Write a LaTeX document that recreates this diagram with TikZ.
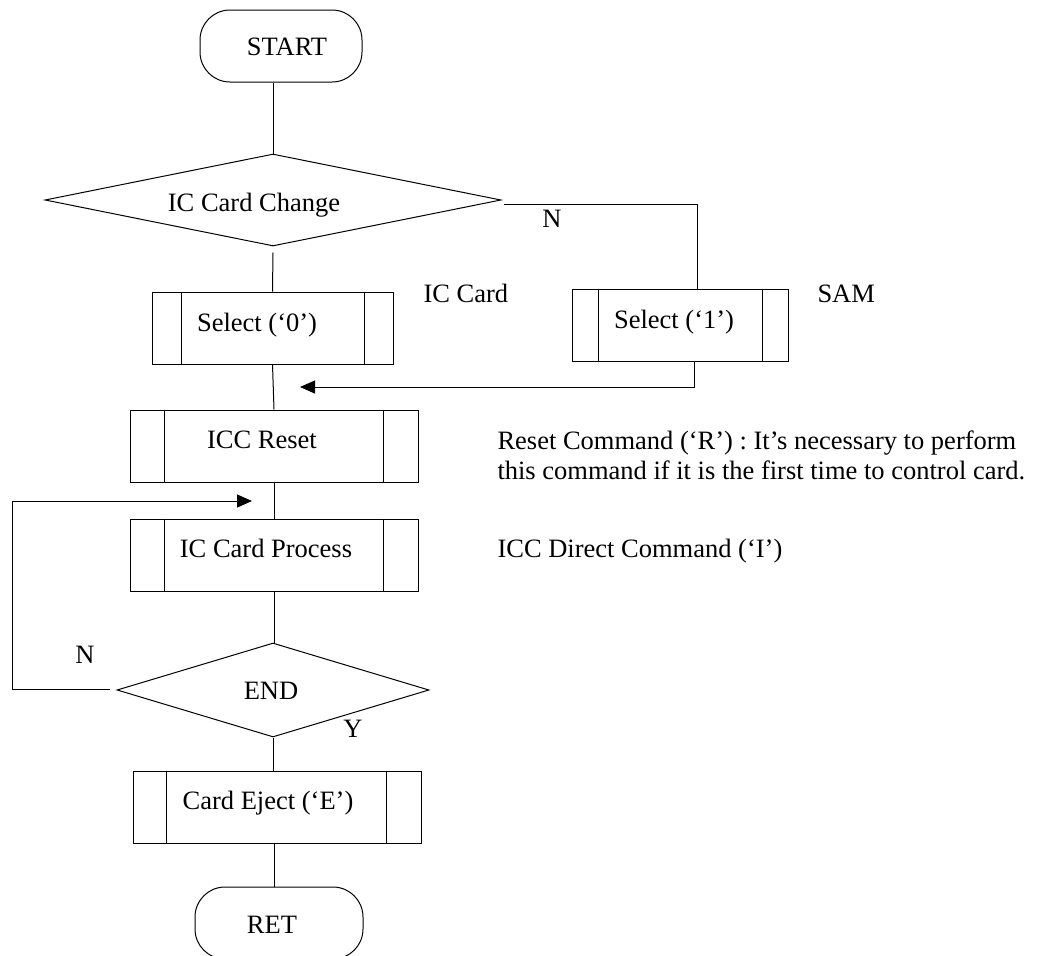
\documentclass[tikz,border=0pt]{standalone}
\usepackage{fontspec}
\setmainfont{Liberation Serif}
\usetikzlibrary{shapes.geometric,arrows.meta}
\begin{document}
\begin{tikzpicture}[x=1pt,y=-1pt,
  line width=1pt,
  every node/.style={font=\fontsize{26.5}{31}\selectfont},
  terminal/.style={draw, rounded corners=30pt, minimum height=72pt, inner sep=0pt},
  decision/.style={draw, diamond, inner sep=0pt},
  subbox/.style={draw, rectangle, minimum height=72pt, inner sep=0pt},
  label/.style={anchor=base, inner sep=0pt},
  note/.style={anchor=base west, inner sep=0pt},
  flow/.style={-{Triangle[length=15pt,width=13pt]}}]

\fill[white] (0,0) rectangle (1045,956);
\useasboundingbox (0,0) rectangle (1045,956);

% shapes
\node[terminal, minimum width=162pt] (start) at (281,46) {};
\node[decision, minimum width=456pt, minimum height=92pt] (d1) at (273,200) {};
\node[subbox, minimum width=241pt] (s0) at (272.5,328) {};
\node[subbox, minimum width=216pt] (s1) at (680,325) {};
\node[subbox, minimum width=288pt] (reset) at (274,446) {};
\node[subbox, minimum width=288pt] (proc) at (274,555) {};
\node[decision, minimum width=312pt, minimum height=94pt] (d2) at (273,690) {};
\node[subbox, minimum width=288pt] (eject) at (277,807) {};
\node[terminal, minimum width=168pt] (ret) at (279,923) {};

% side bars of the predefined-process boxes
\draw ([xshift=30pt]s0.north west) -- ([xshift=30pt]s0.south west);
\draw ([xshift=-29pt]s0.north east) -- ([xshift=-29pt]s0.south east);
\draw ([xshift=27pt]s1.north west) -- ([xshift=27pt]s1.south west);
\draw ([xshift=-26pt]s1.north east) -- ([xshift=-26pt]s1.south east);
\draw ([xshift=35pt]reset.north west) -- ([xshift=35pt]reset.south west);
\draw ([xshift=-35pt]reset.north east) -- ([xshift=-35pt]reset.south east);
\draw ([xshift=35pt]proc.north west) -- ([xshift=35pt]proc.south west);
\draw ([xshift=-35pt]proc.north east) -- ([xshift=-35pt]proc.south east);
\draw ([xshift=34pt]eject.north west) -- ([xshift=34pt]eject.south west);
\draw ([xshift=-35pt]eject.north east) -- ([xshift=-35pt]eject.south east);

% texts inside shapes
\node[label] (tstart) at (287,55) {START};
\node[label] (td1) at (254,211) {IC Card Change};
\node[label] (ts0) at (257,331) {Select (‘0’)};
\node[label] (ts1) at (674,328) {Select (‘1’)};
\node[label] (treset) at (262,448) {ICC Reset};
\node[label] (tproc) at (266,557) {IC Card Process};
\node[label] (td2) at (271,699) {END};
\node[label] (teject) at (268,809) {Card Eject (‘E’)};
\node[label] (tret) at (272,933) {RET};

% branch labels
\node[label] (n1) at (552,227) {N};
\node[label] (n2) at (85,663) {N};
\node[label] (y2) at (353,737) {Y};

% side notes
\node[note] (icc) at (423,302) {IC Card};
\node[note] (sam) at (817,302) {SAM};
\node[note] (rnote1) at (497,449) {Reset Command (‘R’) : It’s necessary to perform};
\node[note] (rnote2) at (497,479) {this command if it is the first time to control card.};
\node[note] (inote) at (497,557) {ICC Direct Command (‘I’)};

% connectors
\coordinate (nstart) at (504,204);
\coordinate (join) at (300,387);
\coordinate (loopc) at (12,501);
\coordinate (looptip) at (252,501);
\coordinate (nend) at (110,689);

\draw (d1.north |- start.south) -- (d1.north);
\draw ([yshift=-6pt]d1.south) -- (s0.north);
\draw (nstart) -| ([xshift=17pt]s1.north);
\draw (s0.south) -- (reset.north);
\draw[flow] ([xshift=14pt]s1.south) |- (join);
\draw (reset.south) -- (proc.north);
\draw[flow] (nend) -| (loopc) -- (looptip);
\draw (proc.south) -- (proc.south |- d2.north);
\draw (d2.south) -- (d2.south |- eject.north);
\draw ([xshift=-5pt]ret.north |- eject.south) -- ([xshift=-5pt]ret.north);

\end{tikzpicture}
\end{document}
